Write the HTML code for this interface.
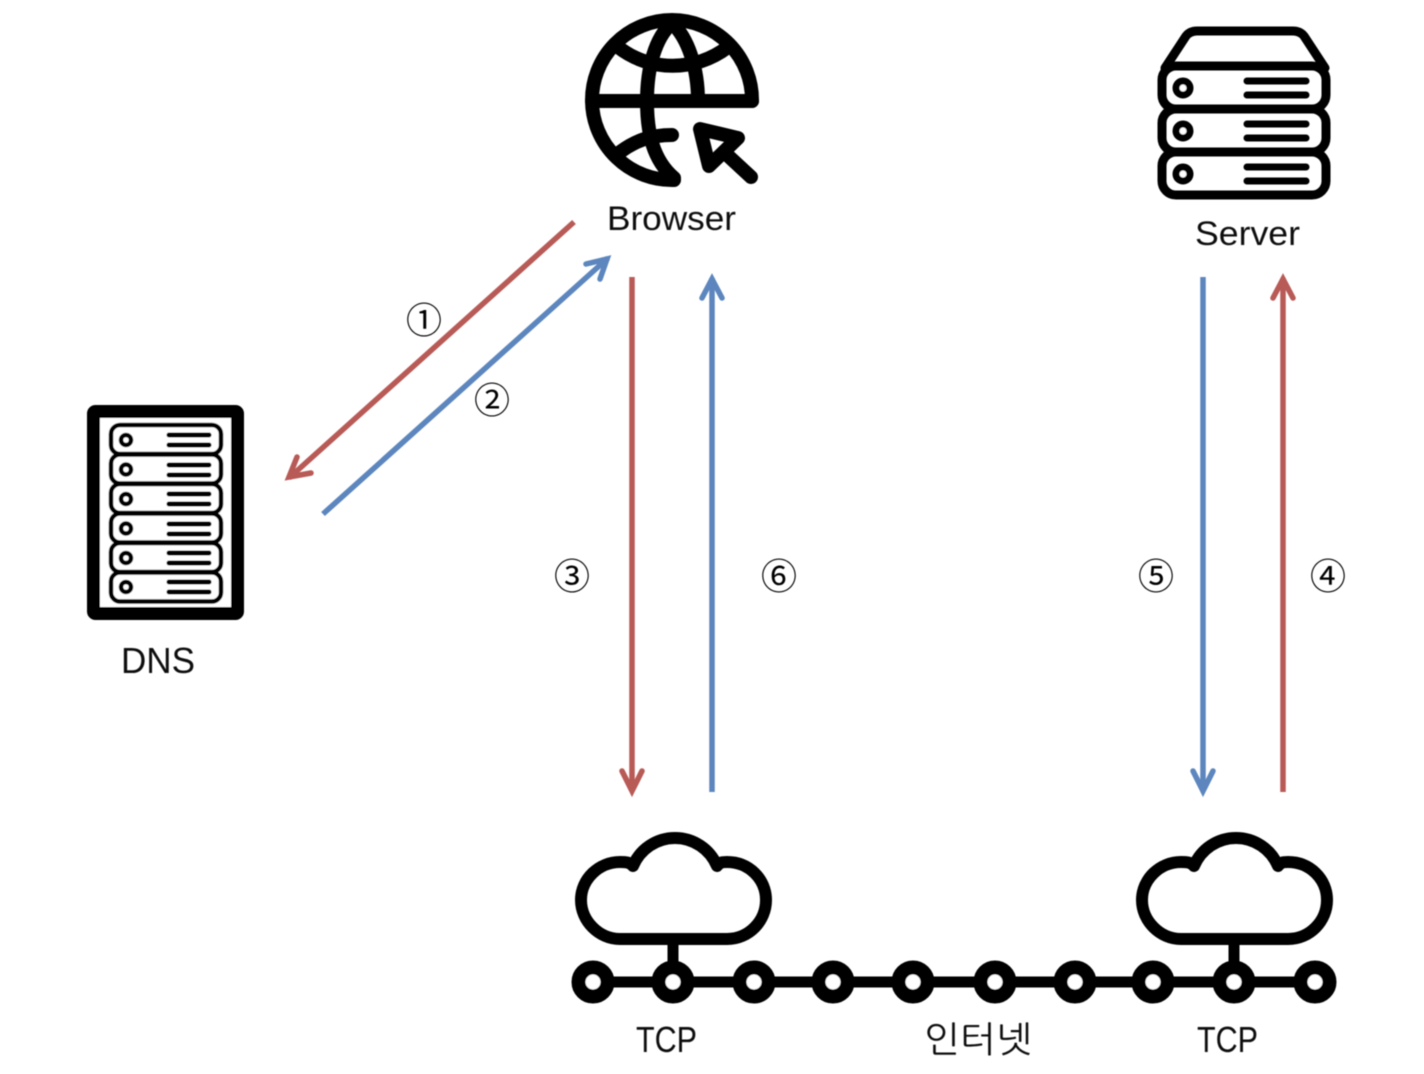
<!DOCTYPE html>
<html><head><meta charset="utf-8"><style>
html,body{margin:0;padding:0;background:#fff}
svg{display:block}
text{font-family:"Liberation Sans","NanumGothic",sans-serif;fill:#111}
.n{font-family:"Noto Sans CJK KR",sans-serif;font-size:36px;text-anchor:middle;fill:#000}
.k{fill:none;stroke:#000;stroke-linecap:round;stroke-linejoin:round}
</style></head><body>
<svg width="1424" height="1074" viewBox="0 0 1424 1074" xmlns="http://www.w3.org/2000/svg">
<defs>
<filter id="b" filterUnits="userSpaceOnUse" x="0" y="0" width="1424" height="1074"><feGaussianBlur stdDeviation="0.5"/></filter>
<g id="cn">
<path class="k" stroke-width="12" d="M620 939H727C749 939 766 921 766 900C766 879 749 862 727 862C723 862 720 862 717 866A45.500 45.500 0 0 0 633 866C630 862 625 862 620 862C599 862 581 879 581 900C581 921 599 939 620 939Z"/>
<path d="M673 939V975" stroke="#000" stroke-width="11"/>
</g>
</defs>
<g filter="url(#b)">
<!-- Globe -->
<g stroke-width="14">
<path d="M752 101A80 80 0 1 0 674 180" class="k"/>
<path d="M592 101H752" class="k"/>
<path d="M672 23C655 38 647 68 647 101C647 133 653 160 674 178" class="k"/>
<path d="M672 23C688 38 698 68 698 101" class="k"/>
<path d="M618 47C650 72 695 72 728 47" class="k"/>
<path d="M620 152C635 141 650 135 672 135" class="k"/>
<path d="M700 129L738 138L709 166Z" class="k"/>
<path d="M724 152L751 177" class="k"/>
</g>
<!-- Server -->
<g stroke-width="9">
<path d="M1165 68L1186 36Q1190 31 1197 31H1293Q1300 31 1304 36L1325 68" class="k"/>
<rect x="1162" y="66" width="164" height="43" rx="14" class="k"/>
<rect x="1162" y="109" width="164" height="43" rx="14" class="k"/>
<rect x="1162" y="152" width="164" height="43" rx="14" class="k"/>
</g>
<g fill="#fff" stroke="#000" stroke-width="7"><circle cx="1183" cy="88" r="7"/><circle cx="1183" cy="131" r="7"/><circle cx="1183" cy="174" r="7"/></g>
<path class="k" stroke-width="7" d="M1247 81H1306M1247 95H1306M1247 124H1306M1247 138H1306M1247 167H1306M1247 181H1306"/>
<!-- DNS -->
<rect x="93.500" y="411.500" width="144" height="202" rx="2" fill="#fff" stroke="#000" stroke-width="13" stroke-linejoin="round"/>
<g fill="#fff" stroke="#000" stroke-width="4.500">
<rect x="111" y="425" width="110" height="29" rx="9"/><rect x="111" y="454.500" width="110" height="29" rx="9"/><rect x="111" y="484" width="110" height="29" rx="9"/><rect x="111" y="513.500" width="110" height="29" rx="9"/><rect x="111" y="543" width="110" height="29" rx="9"/><rect x="111" y="572.500" width="110" height="29" rx="9"/>
<circle cx="126" cy="440" r="5"/><circle cx="126" cy="469.500" r="5"/><circle cx="126" cy="499" r="5"/><circle cx="126" cy="528.500" r="5"/><circle cx="126" cy="558" r="5"/><circle cx="126" cy="587" r="5"/>
</g>
<path class="k" stroke-width="5" d="M169 435H209M169 445H209M169 465H209M169 475H209M169 494H209M169 504H209M169 524H209M169 534H209M169 553H209M169 563H209M169 582H209M169 592H209"/>
<!-- Clouds and bus -->
<use href="#cn"/><use href="#cn" x="561"/>
<path d="M593 982H1315" stroke="#000" stroke-width="11"/>
<g fill="#fff" stroke="#000" stroke-width="14">
<circle cx="593" cy="982" r="14.500"/><circle cx="673" cy="982" r="14.500"/><circle cx="754" cy="982" r="14.500"/><circle cx="833" cy="982" r="14.500"/><circle cx="913" cy="982" r="14.500"/><circle cx="995" cy="982" r="14.500"/><circle cx="1075" cy="982" r="14.500"/><circle cx="1153" cy="982" r="14.500"/><circle cx="1234" cy="982" r="14.500"/><circle cx="1315" cy="982" r="14.500"/>
</g>
<!-- Arrows -->
<g fill="none" stroke-width="5.500" stroke-linejoin="miter">
<g stroke="#B85A56">
<path d="M574 222L289 478"/><path d="M297 457L289 477L311 473" stroke-linecap="round"/>
<path d="M632 277V791"/><path d="M622 771L632 791L642 771" stroke-linecap="round"/>
<path d="M1283 792V278"/><path d="M1273 298L1283 279L1293 298" stroke-linecap="round"/>
</g>
<g stroke="#5B86BD">
<path d="M323 514L608 258"/><path d="M586 264L607 259L600 279" stroke-linecap="round"/>
<path d="M712 792V278"/><path d="M702 298L712 279L722 298" stroke-linecap="round"/>
<path d="M1203 277V791"/><path d="M1193 771L1203 791L1213 771" stroke-linecap="round"/>
</g>
</g>
<!-- Labels -->
<text x="607" y="230" font-size="34" textLength="129" lengthAdjust="spacingAndGlyphs">Browser</text>
<text x="1195" y="245" font-size="34" textLength="105" lengthAdjust="spacingAndGlyphs">Server</text>
<text x="121" y="673" font-size="36" textLength="74" lengthAdjust="spacingAndGlyphs">DNS</text>
<text x="636" y="1052" font-size="36" textLength="61" lengthAdjust="spacingAndGlyphs">TCP</text>
<text x="1197" y="1052" font-size="36" textLength="61" lengthAdjust="spacingAndGlyphs">TCP</text>
<text x="924" y="1052" font-size="36" textLength="108" lengthAdjust="spacingAndGlyphs">인터넷</text>
<text class="n" x="424" y="333">①</text>
<text class="n" x="492" y="413">②</text>
<text class="n" x="572" y="589">③</text>
<text class="n" x="779" y="589">⑥</text>
<text class="n" x="1156" y="589">⑤</text>
<text class="n" x="1328" y="589">④</text>
</g>
</svg>
</body></html>
